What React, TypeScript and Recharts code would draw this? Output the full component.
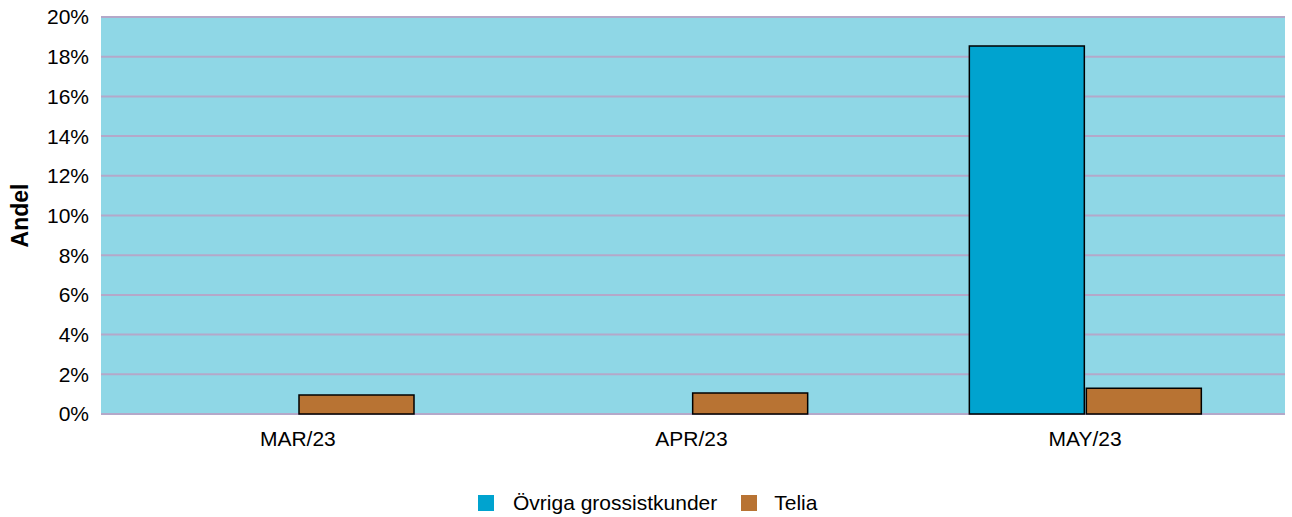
import React from "react";
import { BarChart, Bar, XAxis, YAxis, CartesianGrid, Legend, Label } from "recharts";

const categories = ["MAR/23", "APR/23", "MAY/23"];
const ovrigaValues = [0, 0, 18.54];
const teliaValues = [0.96, 1.06, 1.3];
const yTicks = [0, 2, 4, 6, 8, 10, 12, 14, 16, 18, 20];

const data = categories.map((c, i) => ({ name: c, ovriga: ovrigaValues[i], telia: teliaValues[i] }));

const FONT = "'Liberation Sans', Arial, sans-serif";

const legendItems = [
  { label: "Övriga grossistkunder", color: "#00a3cf" },
  { label: "Telia", color: "#b87333" },
];

const CustomLegend = () => (
  <div style={{ position: "relative", height: 26, fontFamily: FONT, fontSize: 21, color: "#000" }}>
    <div style={{ position: "absolute", left: 478, top: 0, display: "flex", alignItems: "center", height: 26 }}>
      {legendItems.map((it, i) => (
        <div key={it.label} style={{ display: "flex", alignItems: "center", marginRight: i === 0 ? 24 : 0 }}>
          <span style={{ display: "inline-block", width: 16, height: 16, background: it.color, marginRight: i === 0 ? 19 : 17 }} />
          <span style={{ lineHeight: "26px" }}>{it.label}</span>
        </div>
      ))}
    </div>
  </div>
);

export default function App() {
  return (
    <div style={{ position: "absolute", left: 0, top: 0, width: 1292, height: 517, background: "#fff" }}>
      <BarChart
        width={1292}
        height={517}
        data={data}
        margin={{ top: 17, right: 7, left: 0, bottom: 1 }}
        barGap={2}
        barSize={115}
      >
        <CartesianGrid vertical={false} stroke="#b4a8c9" strokeWidth={2} fill="#8fd7e6" />
        <XAxis
          dataKey="name"
          axisLine={false}
          tickLine={false}
          height={76}
          padding={{ left: 0, right: 3 }}
          tick={{ fontFamily: FONT, fontSize: 21, fill: "#000" }}
          tickMargin={11}
        />
        <YAxis
          width={101}
          domain={[0, 20]}
          ticks={yTicks}
          axisLine={false}
          tickLine={false}
          tickMargin={6}
          interval={0}
          tickFormatter={(v: number) => `${v}%`}
          tick={{ fontFamily: FONT, fontSize: 21, fill: "#000" }}
        >
          <Label
            value="Andel"
            angle={-90}
            position="insideLeft"
            offset={20}
            style={{ fontFamily: FONT, fontSize: 23, fontWeight: "bold", fill: "#000", textAnchor: "middle" }}
          />
        </YAxis>
        <Legend verticalAlign="bottom" content={<CustomLegend />} />
        <Bar dataKey="ovriga" name="Övriga grossistkunder" fill="#00a3cf" stroke="#000" strokeWidth={1.5} isAnimationActive={false} />
        <Bar dataKey="telia" name="Telia" fill="#b87333" stroke="#000" strokeWidth={1.5} isAnimationActive={false} />
      </BarChart>
    </div>
  );
}
